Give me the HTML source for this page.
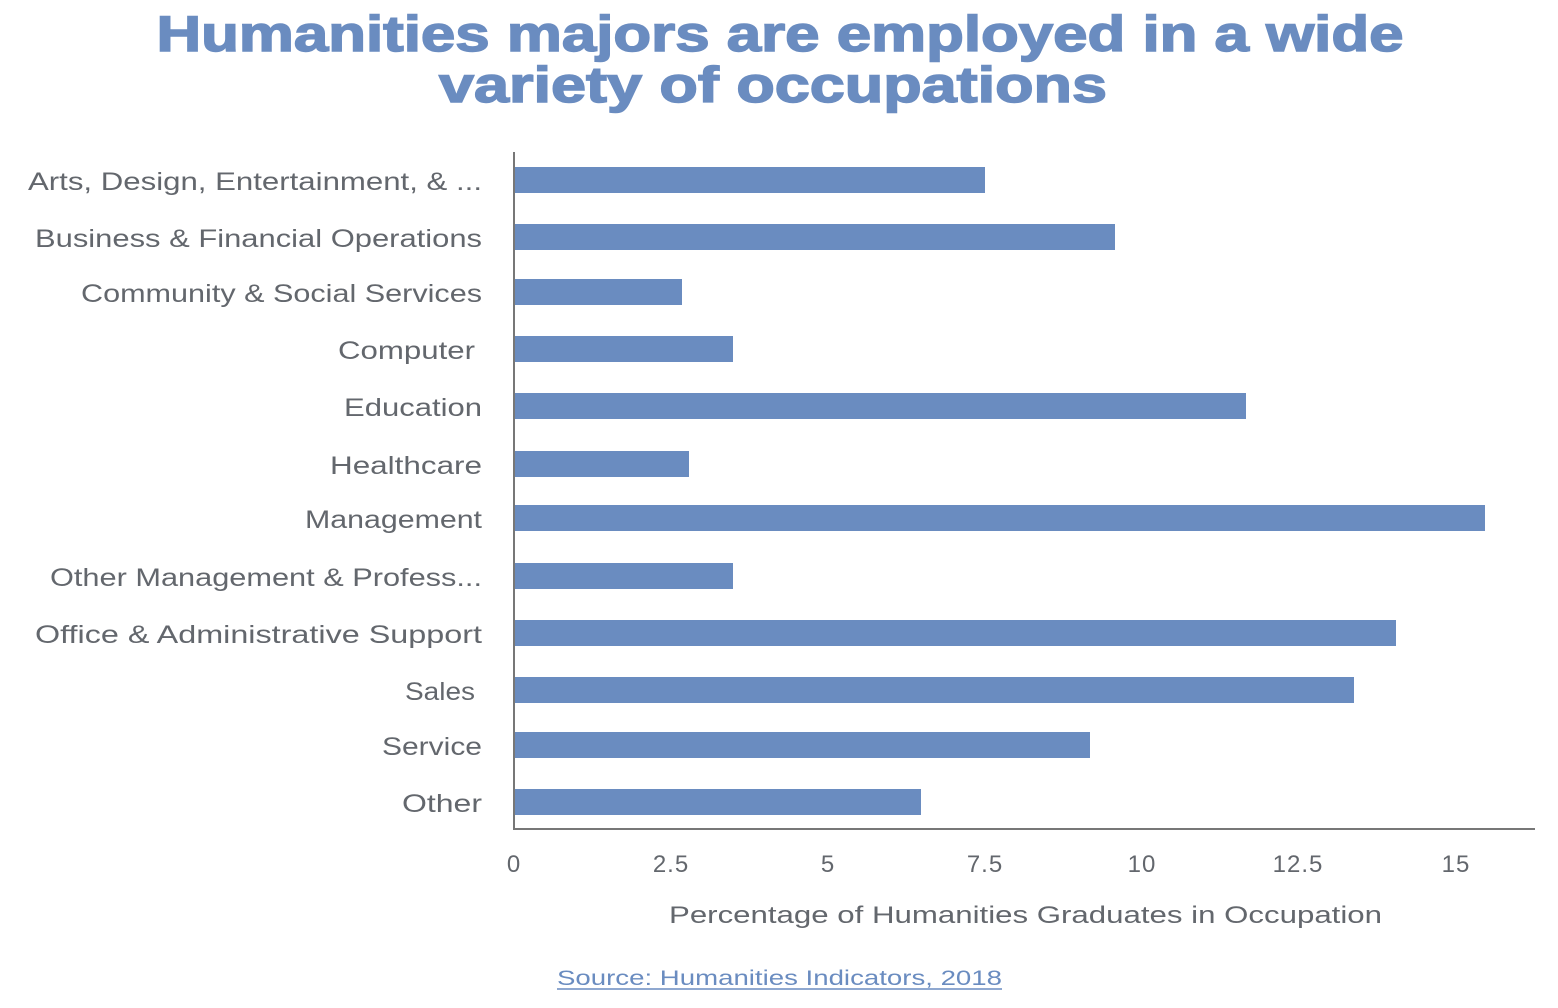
<!DOCTYPE html>
<html><head><meta charset="utf-8"><style>body{margin:0;background:#fff}svg{display:block}</style></head>
<body>
<svg width="1558" height="1008" xmlns="http://www.w3.org/2000/svg">
<g font-family="Liberation Sans, sans-serif" font-weight="bold" fill="#6a8cc0" font-size="50" text-anchor="middle" stroke="#6a8cc0" stroke-width="1.5">
<text x="780" y="51" textLength="1247" lengthAdjust="spacingAndGlyphs">Humanities majors are employed in a wide</text>
<text x="773" y="102" textLength="668" lengthAdjust="spacingAndGlyphs">variety of occupations</text>
</g>
<g fill="#6a8cc0">
<rect x="515" y="167" width="470" height="26"/>
<rect x="515" y="224" width="600" height="26"/>
<rect x="515" y="279" width="167" height="26"/>
<rect x="515" y="336" width="218" height="26"/>
<rect x="515" y="393" width="731" height="26"/>
<rect x="515" y="451" width="174" height="26"/>
<rect x="515" y="505" width="970" height="26"/>
<rect x="515" y="563" width="218" height="26"/>
<rect x="515" y="620" width="881" height="26"/>
<rect x="515" y="677" width="839" height="26"/>
<rect x="515" y="732" width="575" height="26"/>
<rect x="515" y="789" width="406" height="26"/>
</g>
<line x1="514" y1="152" x2="514" y2="830" stroke="#777" stroke-width="2"/>
<line x1="514" y1="829" x2="1535" y2="829" stroke="#777" stroke-width="2"/>
<g font-family="Liberation Sans, sans-serif" font-size="25" fill="#63676d">
<text x="28" y="190" textLength="454" lengthAdjust="spacingAndGlyphs">Arts, Design, Entertainment, &amp; ...</text>
<text x="35" y="247" textLength="447" lengthAdjust="spacingAndGlyphs">Business &amp; Financial Operations</text>
<text x="81" y="302" textLength="401" lengthAdjust="spacingAndGlyphs">Community &amp; Social Services</text>
<text x="338" y="359" textLength="137" lengthAdjust="spacingAndGlyphs">Computer</text>
<text x="344" y="416" textLength="138" lengthAdjust="spacingAndGlyphs">Education</text>
<text x="330" y="474" textLength="152" lengthAdjust="spacingAndGlyphs">Healthcare</text>
<text x="305" y="528" textLength="177" lengthAdjust="spacingAndGlyphs">Management</text>
<text x="50" y="586" textLength="432" lengthAdjust="spacingAndGlyphs">Other Management &amp; Profess...</text>
<text x="35" y="643" textLength="447" lengthAdjust="spacingAndGlyphs">Office &amp; Administrative Support</text>
<text x="405" y="700" textLength="70" lengthAdjust="spacingAndGlyphs">Sales</text>
<text x="382" y="755" textLength="100" lengthAdjust="spacingAndGlyphs">Service</text>
<text x="402" y="812" textLength="80" lengthAdjust="spacingAndGlyphs">Other</text>
</g>
<g font-family="Liberation Sans, sans-serif" font-size="24" fill="#63676d" text-anchor="middle" letter-spacing="1">
<text x="514" y="872">0</text>
<text x="671" y="872">2.5</text>
<text x="828" y="872">5</text>
<text x="985" y="872">7.5</text>
<text x="1142" y="872">10</text>
<text x="1298" y="872">12.5</text>
<text x="1456" y="872">15</text>
</g>
<text x="669" y="923" font-family="Liberation Sans, sans-serif" font-size="24" fill="#63676d" textLength="713" lengthAdjust="spacingAndGlyphs">Percentage of Humanities Graduates in Occupation</text>
<text x="557" y="985" font-family="Liberation Sans, sans-serif" font-size="21" fill="#6a8cc0" textLength="445" lengthAdjust="spacingAndGlyphs">Source: Humanities Indicators, 2018</text>
<line x1="557" y1="989" x2="1002" y2="989" stroke="#6a8cc0" stroke-width="1.5"/>
</svg>
</body></html>
